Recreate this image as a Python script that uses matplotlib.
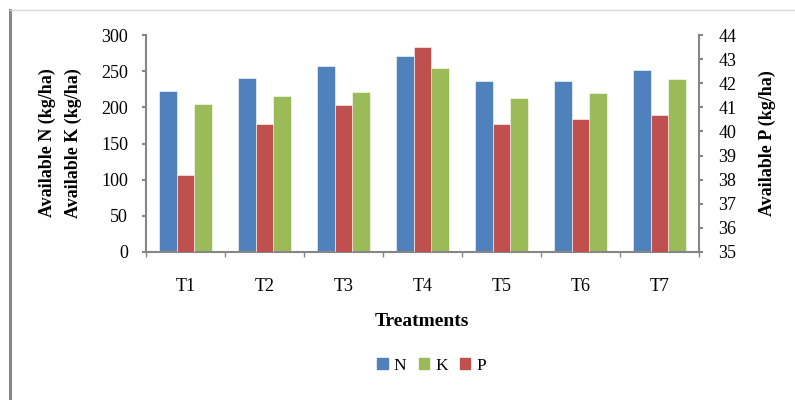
import numpy as np
import matplotlib.pyplot as plt
from matplotlib.patches import Patch
from matplotlib.lines import Line2D

plt.rcParams['font.family'] = ['Liberation Serif', 'DejaVu Serif']

treatments = ["T1", "T2", "T3", "T4", "T5", "T6", "T7"]
n_vals = [222, 240, 257, 271, 236, 236, 251]
k_vals = [204, 215, 221, 254, 213, 220, 239]
p_vals = [38.2, 40.3, 41.1, 43.5, 40.3, 40.5, 40.7]

c_n = "#4F81BD"
c_k = "#9BBB59"
c_p = "#C0504D"
gray = "#868686"

fig = plt.figure(figsize=(7.95, 4.0), dpi=100)
ax = fig.add_axes([146 / 795, 1 - 252 / 400, (699 - 146) / 795, (252 - 35) / 400])
ax2 = ax.twinx()

x = np.arange(len(treatments))
w = 0.225
ax.bar(x - w, n_vals, w, color=c_n, edgecolor="white", linewidth=0.4, zorder=2)
ax.bar(x + w, k_vals, w, color=c_k, edgecolor="white", linewidth=0.4, zorder=2)
ax2.bar(x, p_vals, w, color=c_p, edgecolor="white", linewidth=0.4, zorder=2)

ax.set_xlim(-0.5, len(treatments) - 0.5)
ax.set_ylim(0, 300)
ax.set_yticks(range(0, 301, 50))
ax2.set_ylim(35, 44)
ax2.set_yticks(range(35, 45))

# category boundary ticks
ax.set_xticks(np.arange(-0.5, len(treatments), 1.0))
ax.set_xticklabels([])
ax.set_xticks(x, minor=True)
ax.set_xticklabels(treatments, minor=True, fontsize=13)
ax.tick_params(axis="x", which="minor", length=0, pad=19)
ax.tick_params(axis="x", which="major", length=3.6, color=gray, width=1)

for a in (ax, ax2):
    a.spines["top"].set_visible(False)
    for s in ("left", "right", "bottom"):
        a.spines[s].set_color(gray)
        a.spines[s].set_linewidth(1.5)
ax.spines["right"].set_visible(False)
ax2.spines["left"].set_visible(False)
ax2.spines["bottom"].set_visible(False)
ax.tick_params(axis="y", length=3, color=gray, width=1.5, labelsize=13, pad=10)
ax2.tick_params(axis="y", length=3, color=gray, width=1.5, labelsize=13, pad=11)

fig.text(422 / 795, 1 - 322 / 400, "Treatments", fontsize=14, fontweight="bold",
         ha="center", va="center")
fig.text(47 / 795, 1 - 143 / 400, "Available N (kg/ha)", fontsize=13, fontweight="bold",
         rotation=90, ha="center", va="center")
fig.text(73 / 795, 1 - 143 / 400, "Available K (kg/ha)", fontsize=13, fontweight="bold",
         rotation=90, ha="center", va="center")
fig.text(767 / 795, 1 - 143 / 400, "Available P (kg/ha)", fontsize=13, fontweight="bold",
         rotation=90, ha="center", va="center")

handles = [Patch(color=c_n), Patch(color=c_k), Patch(color=c_p)]
fig.legend(handles, ["N", "K", "P"], loc="center", bbox_to_anchor=(0.543, 1 - 366 / 400),
           ncol=3, frameon=False, fontsize=12.5, handlelength=0.6, handleheight=0.6,
           handletextpad=0.35, columnspacing=0.7)

# outer frame
fig.add_artist(Line2D([10 / 795, 10 / 795], [0, 1 - 10 / 400], color=gray, lw=2.2,
                      transform=fig.transFigure))
fig.add_artist(Line2D([10 / 795, 1], [1 - 10 / 400, 1 - 10 / 400], color="#d9d9d9", lw=1,
                      transform=fig.transFigure))

fig.savefig("out.png", dpi=100)
